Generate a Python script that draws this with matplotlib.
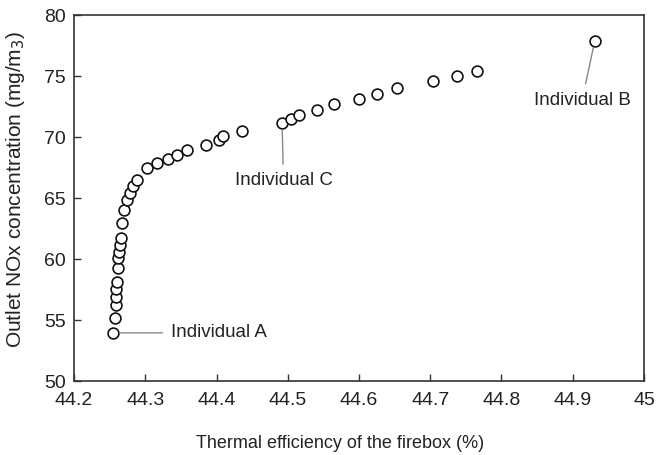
import matplotlib
matplotlib.use("Agg")
import matplotlib.pyplot as plt

plt.rcParams['font.family'] = ['Liberation Sans', 'DejaVu Sans']

# Pareto front: thermal efficiency (%) vs outlet NOx (mg/m3)
efficiency = [44.2547, 44.2575, 44.259, 44.259, 44.259, 44.260, 44.262, 44.262,
              44.263, 44.265, 44.266, 44.267, 44.270, 44.274, 44.279, 44.283,
              44.288, 44.302, 44.316, 44.332, 44.345, 44.359, 44.385, 44.404,
              44.409, 44.436, 44.492, 44.505, 44.516, 44.541, 44.565, 44.600,
              44.625, 44.653, 44.704, 44.738, 44.766, 44.931]
nox = [53.95, 55.16, 56.23, 56.89, 57.54, 58.11, 59.26, 60.08,
       60.57, 61.15, 61.72, 62.95, 64.02, 64.84, 65.41, 65.98,
       66.48, 67.46, 67.87, 68.20, 68.52, 68.93, 69.34, 69.75,
       70.08, 70.49, 71.15, 71.48, 71.80, 72.21, 72.70, 73.11,
       73.52, 74.02, 74.59, 75.00, 75.41, 77.90]

labels = ["Individual A", "Individual C", "Individual B"]
label_idx = [0, 26, 37]
label_pos = [(44.336, 53.95), (44.494, 66.4), (44.913, 73.0)]
label_ha = ['left', 'center', 'center']

fig = plt.figure(figsize=(6.62, 4.55), dpi=100)
ax = fig.add_axes([0.1118, 0.1626, 0.861, 0.8044])

ax.plot(efficiency, nox, 'o', markerfacecolor='white', markeredgecolor='#111111',
        markersize=7.8, markeredgewidth=1.2, linestyle='none', zorder=3)

# gray leader lines to the labelled individuals
for name, i, (tx, ty), ha in zip(labels, label_idx, label_pos, label_ha):
    ax.annotate(name, xy=(efficiency[i], nox[i]), xytext=(tx, ty),
                ha=ha, va='center', fontsize=13.5, color='#222222',
                arrowprops=dict(arrowstyle='-', color='#888888', lw=1,
                                shrinkA=4, shrinkB=5))

ax.set_xlim(44.2, 45)
ax.set_ylim(50, 80)
ax.set_xticks([44.2, 44.3, 44.4, 44.5, 44.6, 44.7, 44.8, 44.9, 45])
ax.set_xticklabels(['44.2', '44.3', '44.4', '44.5', '44.6', '44.7', '44.8', '44.9', '45'])
ax.set_yticks([50, 55, 60, 65, 70, 75, 80])
ax.tick_params(direction='in', length=5, width=1, labelsize=14,
               colors='#333333', labelcolor='#222222')
ax.tick_params(axis='y', pad=6)
ax.tick_params(axis='x', pad=8)
for s in ax.spines.values():
    s.set_color('#333333')
    s.set_linewidth(1.2)

ax.set_xlabel('Thermal efficiency of the firebox (%)', fontsize=13, color='#222222')
ax.set_ylabel('Outlet NOx concentration (mg/m$_3$)', fontsize=15, color='#222222')
ax.xaxis.set_label_coords(0.467, -0.147)
ax.yaxis.set_label_coords(-0.083, 0.522)

fig.savefig('out.png', dpi=100)
